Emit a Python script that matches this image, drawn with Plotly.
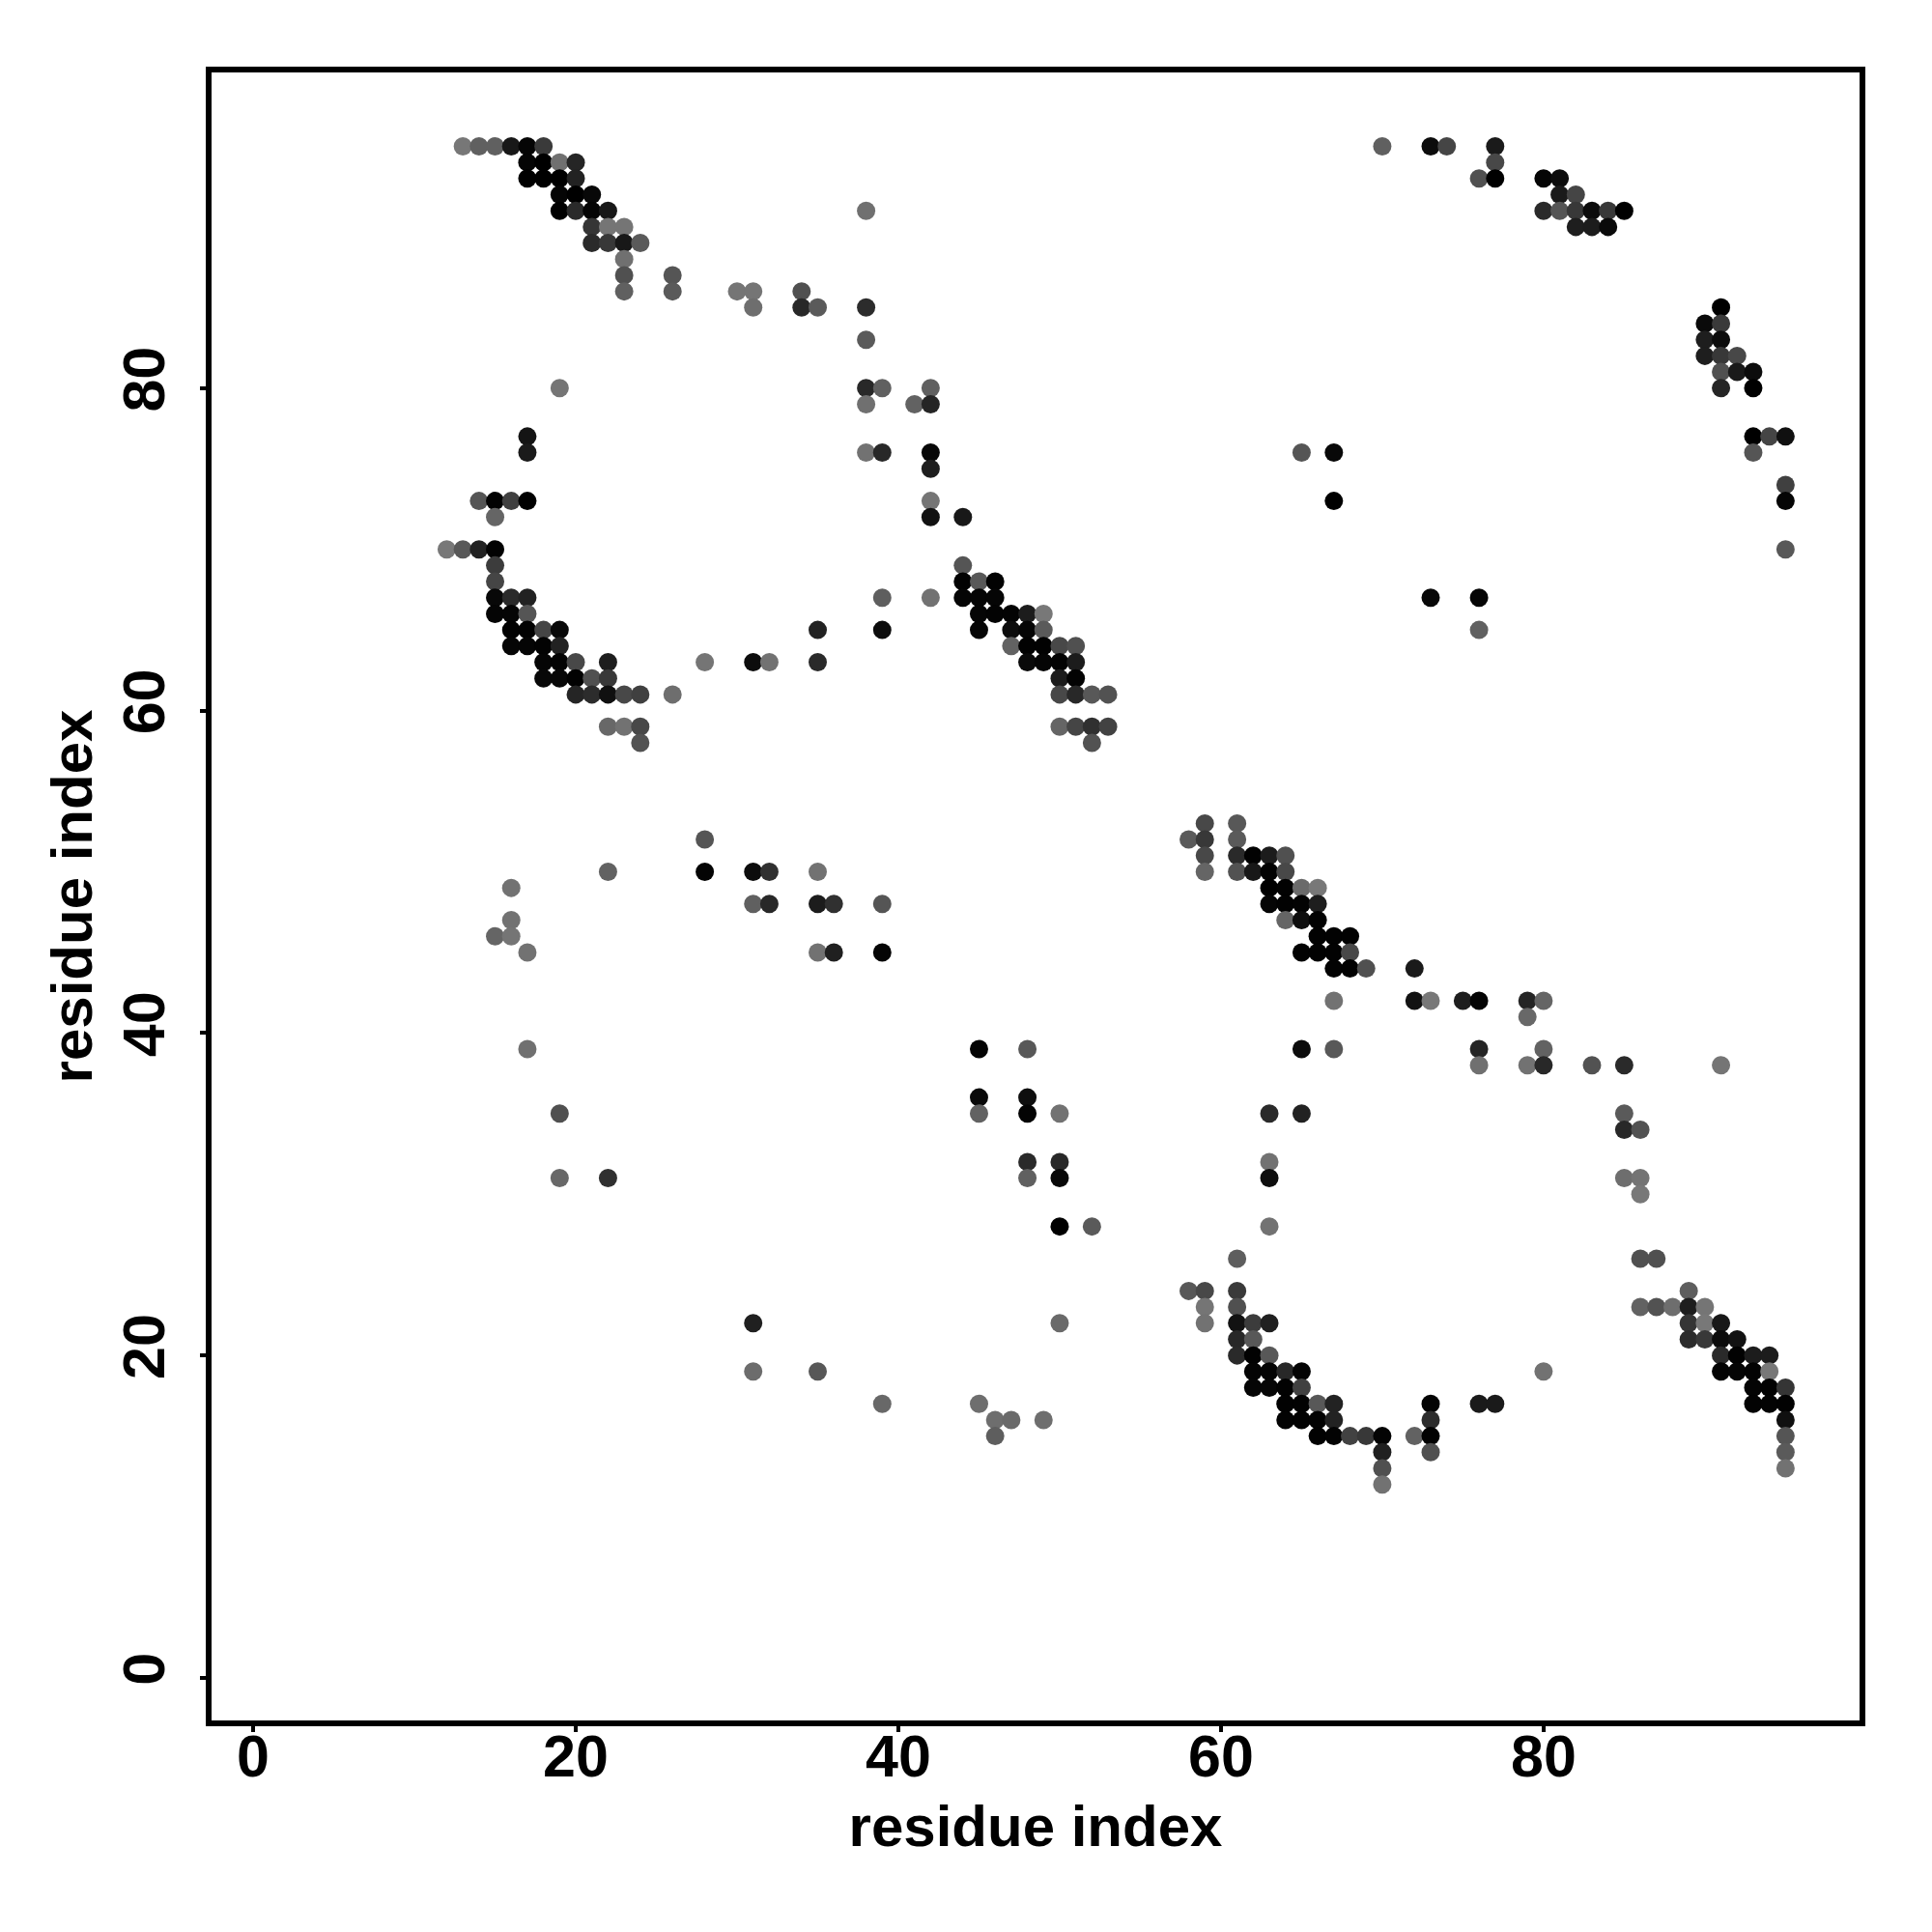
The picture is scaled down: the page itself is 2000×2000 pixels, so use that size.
import plotly.graph_objects as go

# one line per row of the contact map (row = residue_y value)
residue_x = [
    13, 14, 15, 16, 17, 18, 70, 73, 74, 77,
    17, 18, 19, 20, 77,
    17, 18, 19, 20, 76, 77, 80, 81,
    19, 20, 21, 81, 82,
    19, 20, 21, 22, 38, 80, 81, 82, 83, 84, 85,
    21, 22, 23, 82, 83, 84,
    21, 22, 23, 24,
    23,
    23, 26,
    23, 26, 30, 31, 34,
    31, 34, 35, 38, 91,
    90, 91,
    38, 90, 91,
    90, 91, 92,
    91, 92, 93,
    19, 38, 39, 42, 91, 93,
    38, 41, 42,
    17, 93, 94, 95,
    17, 38, 39, 42, 65, 67, 93,
    42,
    95,
    14, 15, 16, 17, 42, 67, 95,
    15, 42, 44,
    12, 13, 14, 15, 95,
    15, 44,
    15, 44, 45, 46,
    15, 16, 17, 39, 42, 44, 45, 46, 73, 76,
    15, 16, 17, 45, 46, 47, 48, 49,
    16, 17, 18, 19, 35, 39, 45, 47, 48, 49, 76,
    16, 17, 18, 19, 47, 48, 49, 50, 51,
    18, 19, 20, 22, 28, 31, 32, 35, 48, 49, 50, 51,
    18, 19, 20, 21, 22, 50, 51,
    20, 21, 22, 23, 24, 26, 50, 51, 52, 53,
    22, 23, 24, 50, 51, 52, 53,
    24, 52,
    59, 61,
    28, 58, 59, 61,
    59, 61, 62, 63, 64,
    22, 28, 31, 32, 35, 59, 61, 62, 63, 64,
    16, 63, 64, 65, 66,
    31, 32, 35, 36, 39, 63, 64, 65, 66,
    16, 64, 65, 66,
    15, 16, 66, 67, 68,
    17, 35, 36, 39, 65, 66, 67, 68,
    67, 68, 69, 72,
    67, 72, 73, 75, 76, 79, 80,
    79,
    17, 45, 48, 65, 67, 76, 80,
    76, 79, 80, 83, 85, 91,
    45, 48,
    19, 45, 48, 50, 63, 65, 85,
    85, 86,
    48, 50, 63,
    19, 22, 48, 50, 63, 85, 86,
    86,
    50, 52, 63,
    61, 86, 87,
    58, 59, 61, 89,
    59, 61, 86, 87, 88, 89, 90,
    31, 50, 59, 61, 62, 63, 89, 90, 91,
    61, 62, 89, 90, 91, 92,
    61, 62, 63, 91, 92, 93, 94,
    31, 35, 62, 63, 64, 65, 80, 91, 92, 93, 94,
    62, 63, 64, 65, 93, 94, 95,
    39, 45, 64, 65, 66, 67, 73, 76, 77, 93, 94, 95,
    46, 47, 49, 64, 65, 66, 67, 73, 95,
    46, 66, 67, 68, 69, 70, 72, 73, 95,
    70, 73, 95,
    70, 95,
    70,
]

residue_y = (
    [95] * 10 + [94] * 5 + [93] * 8 + [92] * 5 + [91] * 11 + [90] * 6 + [89] * 4
    + [88] * 1 + [87] * 2 + [86] * 5 + [85] * 5 + [84] * 2 + [83] * 3 + [82] * 3
    + [81] * 3 + [80] * 6 + [79] * 3 + [77] * 4 + [76] * 7 + [75] * 1 + [74] * 1
    + [73] * 7 + [72] * 3 + [70] * 5 + [69] * 2 + [68] * 4 + [67] * 10 + [66] * 8
    + [65] * 11 + [64] * 9 + [63] * 12 + [62] * 7 + [61] * 10 + [59] * 7 + [58] * 2
    + [53] * 2 + [52] * 4 + [51] * 5 + [50] * 10 + [49] * 5 + [48] * 9 + [47] * 4
    + [46] * 5 + [45] * 8 + [44] * 4 + [42] * 7 + [41] * 1 + [39] * 7 + [38] * 6
    + [36] * 2 + [35] * 7 + [34] * 2 + [32] * 3 + [31] * 7 + [30] * 1 + [28] * 3
    + [26] * 3 + [24] * 4 + [23] * 7 + [22] * 9 + [21] * 6 + [20] * 7 + [19] * 11
    + [18] * 7 + [17] * 12 + [16] * 9 + [15] * 9 + [14] * 3 + [13] * 2 + [12] * 1
)

# grey level of each dot, 0 = black, 255 = white
gray_level = [
    119, 96, 96, 24, 5, 58, 96, 12, 69, 26,
    5, 0, 112, 37, 72,
    0, 0, 0, 34, 80, 0, 5, 12,
    5, 0, 8, 26, 69,
    0, 42, 5, 24, 112, 42, 85, 56, 12, 56, 0,
    53, 117, 117, 30, 28, 10,
    42, 56, 24, 90,
    112,
    80, 85,
    96, 90, 117, 117, 80,
    110, 40, 90, 44, 0,
    10, 58,
    90, 30, 12,
    30, 56, 72,
    80, 26, 12,
    117, 40, 96, 96, 37, 0,
    112, 98, 37,
    20, 0, 69, 16,
    26, 114, 40, 8, 85, 8, 85,
    30,
    64,
    85, 2, 64, 0, 117, 0, 5,
    101, 18, 24,
    120, 88, 34, 2, 88,
    60, 85,
    69, 2, 88, 2,
    8, 42, 34, 94, 114, 5, 5, 5, 8, 5,
    5, 5, 85, 5, 3, 3, 28, 120,
    2, 2, 69, 8, 34, 12, 5, 12, 5, 90, 96,
    5, 5, 3, 34, 98, 2, 2, 72, 80,
    5, 3, 72, 30, 117, 12, 114, 42, 10, 5, 3, 28,
    8, 8, 2, 80, 56, 28, 3,
    37, 44, 16, 72, 64, 110, 72, 40, 88, 82,
    104, 114, 72, 101, 69, 48, 66,
    82, 82,
    72, 88,
    85, 90, 56, 90,
    72, 42, 2, 28, 80,
    98, 4, 12, 48, 114, 101, 82, 24, 2, 72,
    114, 0, 2, 106, 120,
    96, 40, 28, 48, 85, 5, 2, 3, 30,
    114, 101, 14, 2,
    101, 117, 2, 2, 2,
    114, 114, 32, 5, 2, 2, 2, 72,
    3, 2, 80, 26,
    114, 18, 120, 30, 4, 37, 101,
    104,
    112, 4, 88, 12, 88, 37, 98,
    112, 114, 40, 82, 42, 117,
    10, 14,
    80, 98, 4, 114, 42, 34, 90,
    40, 82,
    42, 40, 114,
    104, 48, 96, 8, 14, 110, 116,
    120,
    0, 90, 114,
    94, 80, 80,
    88, 72, 58, 94,
    117, 80, 98, 82, 110, 30, 117,
    32, 106, 114, 18, 60, 32, 53, 120, 24,
    40, 88, 44, 56, 12, 18,
    42, 2, 88, 42, 2, 28, 28,
    108, 88, 4, 5, 40, 4, 114, 3, 5, 3, 120,
    5, 6, 2, 64, 4, 2, 53,
    104, 110, 2, 2, 88, 34, 4, 26, 26, 3, 3, 2,
    110, 106, 110, 3, 2, 3, 34, 44, 16,
    94, 2, 3, 66, 56, 4, 98, 2, 85,
    32, 80, 90,
    80, 114,
    114,
]

tick_values = [0, 20, 40, 60, 80]
tick_labels = ["0", "20", "40", "60", "80"]
axis_label = "residue index"

marker_colors = [f"rgb({g},{g},{g})" for g in gray_level]
FONT = "Liberation Sans, Arial, sans-serif"

fig = go.Figure(
    go.Scatter(
        x=residue_x,
        y=residue_y,
        mode="markers",
        marker=dict(size=19, color=marker_colors, line=dict(width=0)),
        cliponaxis=False,
        showlegend=False,
    )
)

axis_common = dict(
    tickmode="array",
    tickvals=tick_values,
    ticktext=tick_labels,
    ticks="outside",
    ticklen=6,
    tickwidth=3.5,
    tickcolor="black",
    showline=True,
    linecolor="black",
    linewidth=6,
    mirror=True,
    showgrid=False,
    zeroline=False,
    tickfont=dict(family=FONT, size=61, color="black", weight="bold"),
)

fig.update_xaxes(
    **axis_common,
    range=[-2.58, 99.59],
    ticklabelstandoff=-27,
    title=dict(text=axis_label, standoff=20,
               font=dict(family=FONT, size=60, color="black", weight="bold")),
)
fig.update_yaxes(
    **axis_common,
    range=[-2.64, 99.58],
    tickangle=-90,
    ticklabelstandoff=13,
    title=dict(text=axis_label, standoff=2,
               font=dict(family=FONT, size=60, color="black", weight="bold")),
)

# the page body adds 8 px on the top and left of the figure
fig.update_layout(
    width=1984,
    height=1984,
    paper_bgcolor="white",
    plot_bgcolor="white",
    margin=dict(l=211.4, r=1984 - 1917, t=67, b=1984 - 1773, autoexpand=False),
)

assert len(residue_x) == len(residue_y) == len(gray_level)
fig.write_html("out.html")
